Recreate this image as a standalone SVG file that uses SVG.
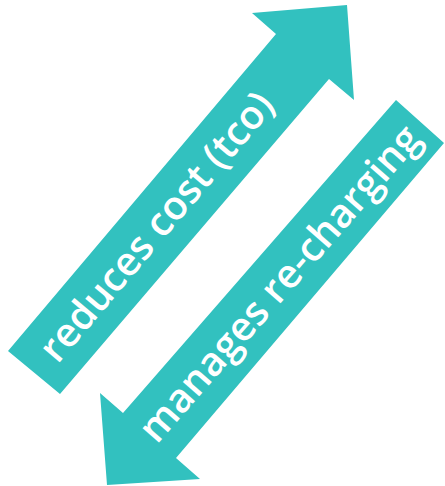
<svg xmlns="http://www.w3.org/2000/svg" width="445" height="486" viewBox="0 0 445 486">
<style>
.arrow{fill:#32c1bf;stroke:none}
.lbl{font-family:"Open Sans","DejaVu Sans",sans-serif;font-weight:600;font-size:40px;fill:#ffffff;text-anchor:middle}
</style>
<rect width="445" height="486" fill="#ffffff"/>
<g id="connectors">
<g id="arrow-up">
<polygon class="arrow" points="8,351 276,34 252,13 347,5 354,100 329,79 60,394"/>
<text class="lbl" transform="translate(157,227) rotate(-49.8)" x="0" y="13">reduces cost (tco)</text>
</g>
<g id="arrow-down">
<polygon class="arrow" points="396,100 444,143 176,458 200,479 107,485 100,393 123,413"/>
<text class="lbl" transform="translate(280,284) rotate(-48.9)" x="0" y="13">manages re-charging</text>
</g>
</g>
</svg>
